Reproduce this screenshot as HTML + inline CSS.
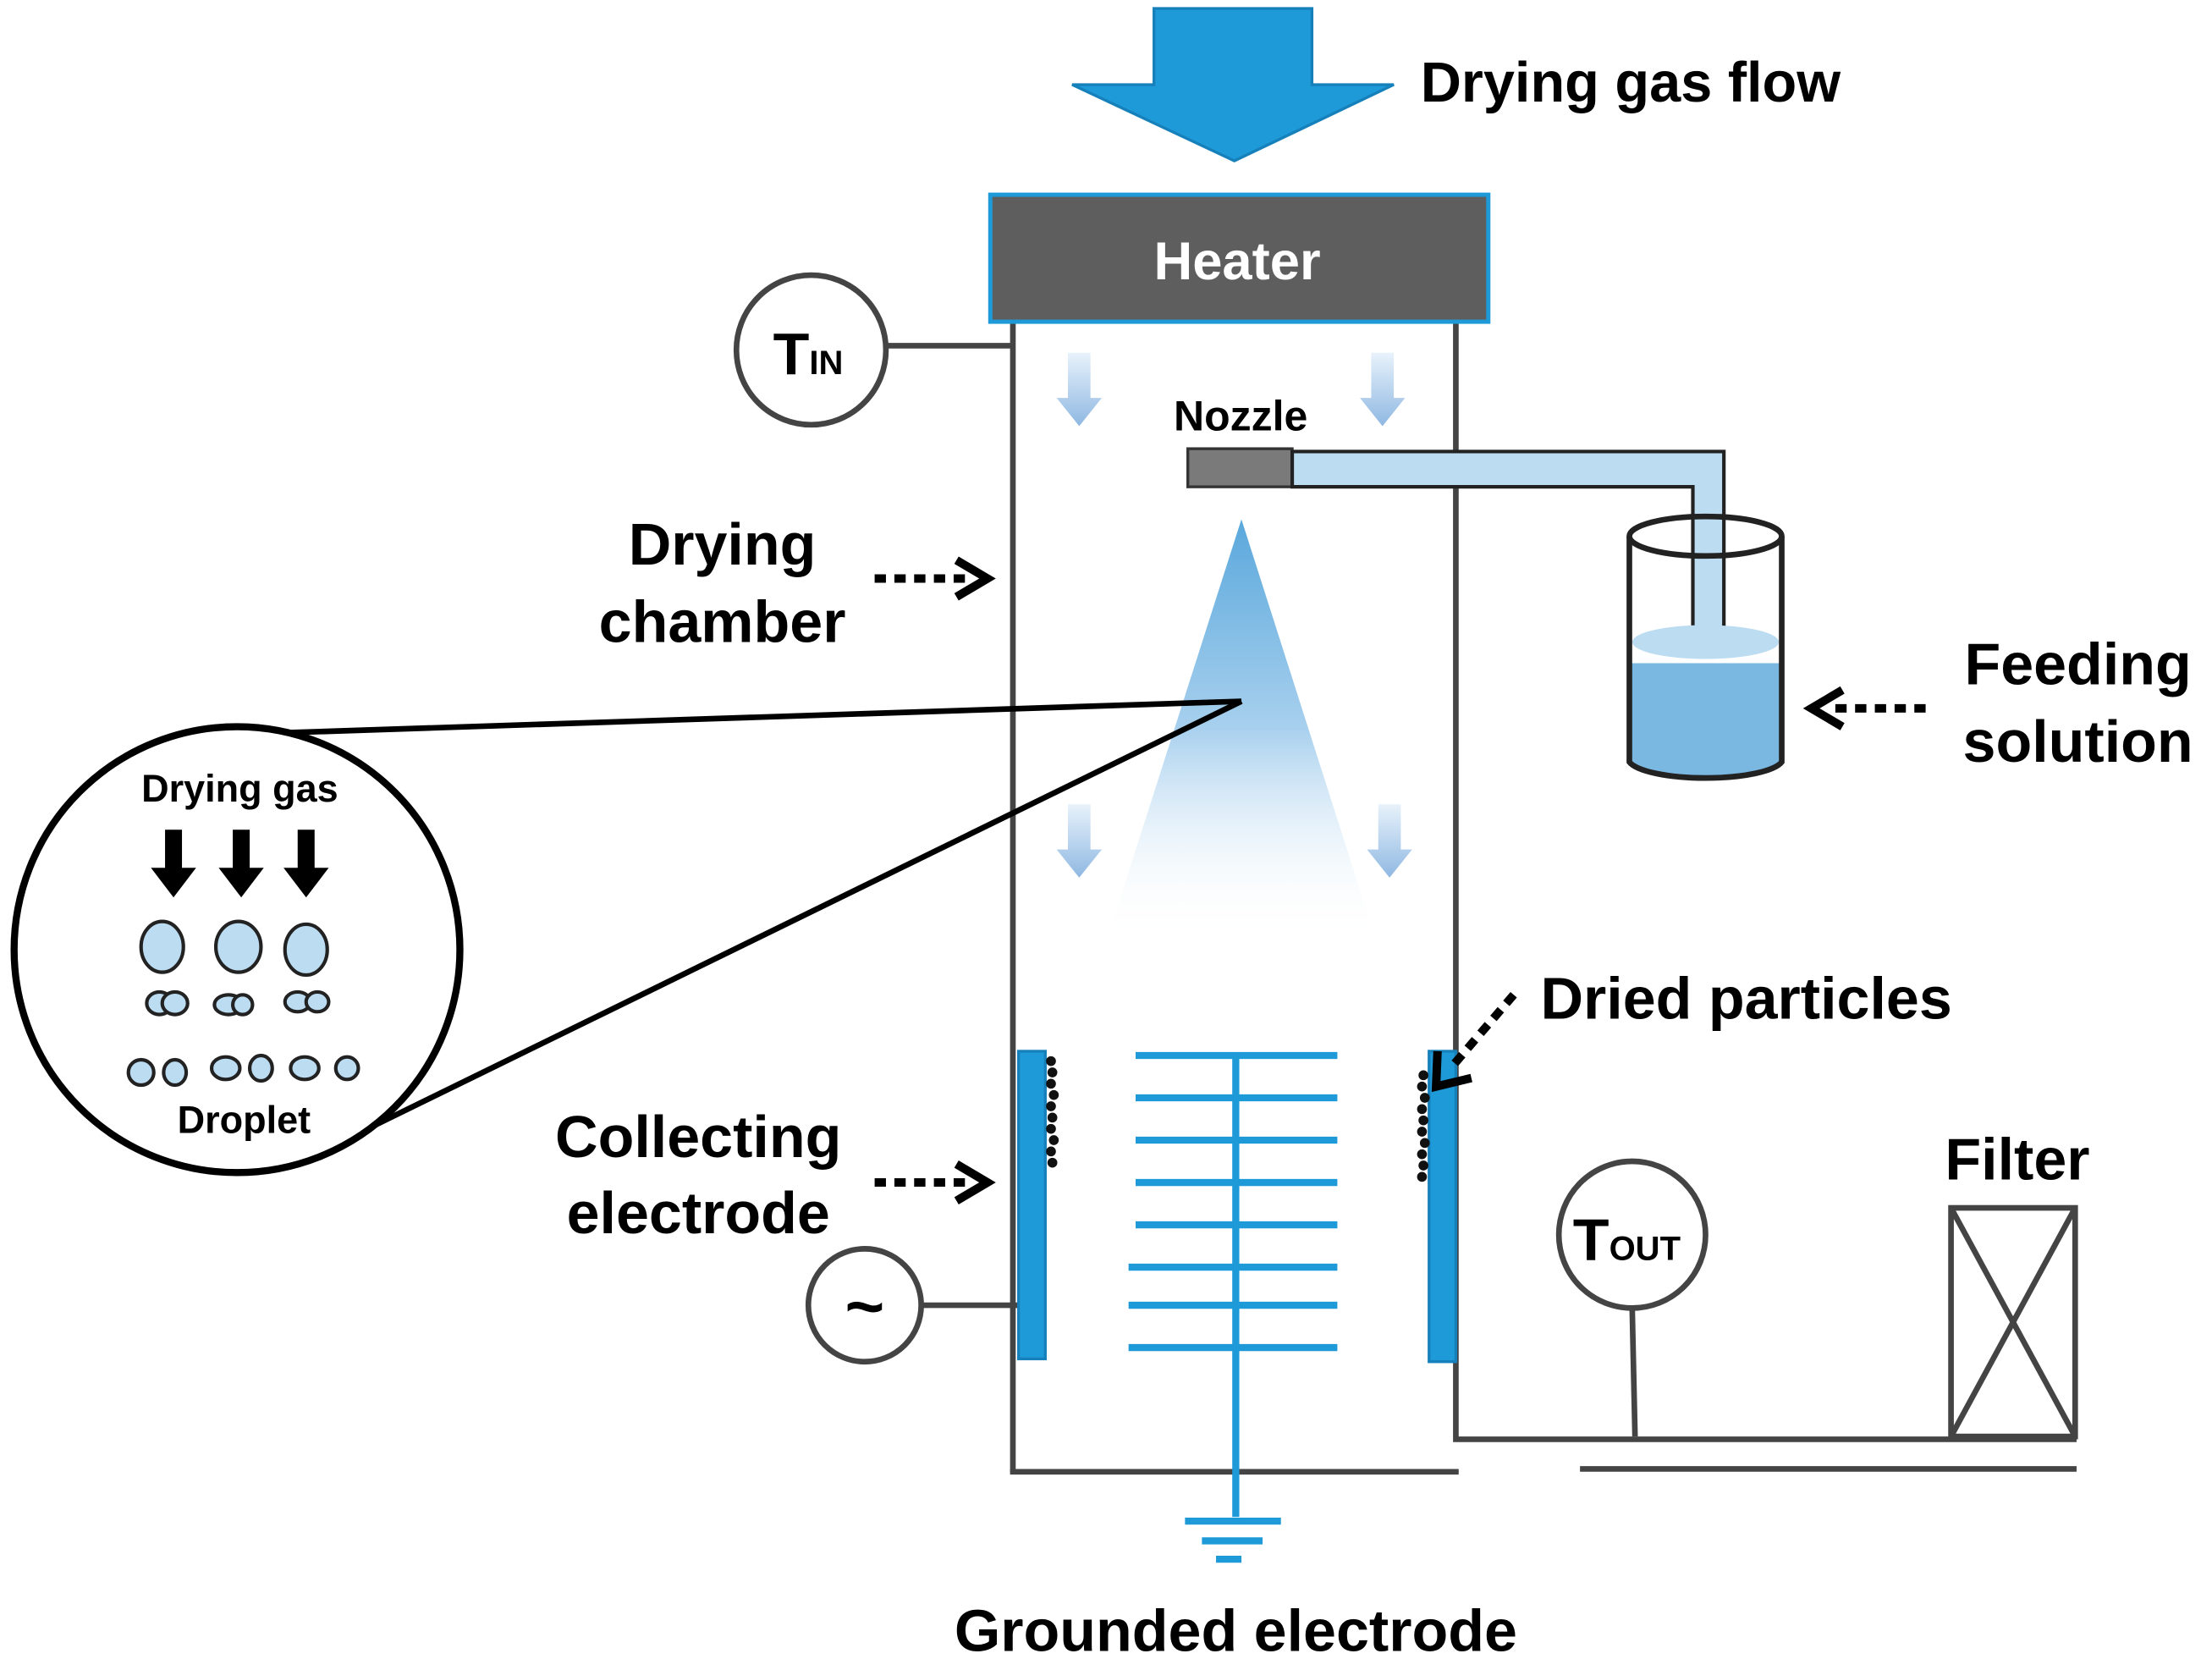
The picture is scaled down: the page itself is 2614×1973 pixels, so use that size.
<!DOCTYPE html>
<html><head><meta charset="utf-8"><style>
html,body{margin:0;padding:0;background:#fff;}
svg{display:block;}
text{font-family:"Liberation Sans",sans-serif;font-weight:bold;fill:#000;}
</style></head><body>
<svg width="2614" height="1973" viewBox="0 0 1568 1183.5" xmlns="http://www.w3.org/2000/svg">
<defs>
<linearGradient id="cone" x1="0" y1="0" x2="0" y2="1">
<stop offset="0" stop-color="#5aa8dc"/><stop offset="0.5" stop-color="#a8d0ee"/><stop offset="1" stop-color="#fff" stop-opacity="0"/></linearGradient>
<linearGradient id="ar" x1="0" y1="0" x2="0" y2="1"><stop offset="0" stop-color="#e8f2fb"/><stop offset="1" stop-color="#8fb8e2"/></linearGradient>
</defs>
<polygon points="818,6 930,6 930,60 988,60 875,114 760,60 818,60" fill="#1f9ad8" stroke="#1680bb" stroke-width="2"/>
<text x="1007" y="72" font-size="40">Drying gas flow</text>
<g stroke="#444" stroke-width="4" fill="none">
<line x1="718" y1="228" x2="718" y2="1043"/>
<line x1="716" y1="1043" x2="1034" y2="1043"/>
<polyline points="1032,228 1032,1020 1472,1020"/>
<line x1="1120" y1="1041" x2="1472" y2="1041"/>
<line x1="628" y1="245" x2="718" y2="245"/>
<line x1="653" y1="925" x2="722" y2="925"/>
<line x1="1157" y1="927" x2="1159" y2="1018"/>
<rect x="1383" y="856" width="88" height="162"/>
<line x1="1383" y1="856" x2="1471" y2="1018"/><line x1="1471" y1="856" x2="1383" y2="1018"/>
<circle cx="575" cy="248" r="53"/>
<circle cx="613" cy="925" r="40"/>
<circle cx="1157" cy="875" r="52"/>
</g>
<text x="548" y="265" font-size="42">T<tspan font-size="24">IN</tspan></text>
<text x="613" y="942" font-size="48" text-anchor="middle">~</text>
<text x="1115" y="893" font-size="42">T<tspan font-size="24">OUT</tspan></text>
<rect x="702" y="138" width="353" height="90" fill="#5e5e5e" stroke="#1f9ad8" stroke-width="3"/>
<text x="877" y="198" font-size="38" text-anchor="middle" style="fill:#fff">Heater</text>
<polygon points="880,368 785,665 975,665" fill="url(#cone)"/>
<g fill="url(#ar)">
<polygon points="757,250 773,250 773,282 781,282 765,302 749,282 757,282"/>
<polygon points="972,250 988,250 988,282 996,282 980,302 964,282 972,282"/>
<polygon points="757,570 773,570 773,602 781,602 765,622 749,602 757,602"/>
<polygon points="977,570 993,570 993,602 1001,602 985,622 969,602 977,602"/>
</g>
<rect x="842" y="318" width="74" height="27" fill="#7a7a7a" stroke="#333" stroke-width="2"/>
<path d="M916,320 H1222 V445 H1200 V345 H916 Z" fill="#bcdcf2" stroke="#222" stroke-width="2.5"/>
<text x="832" y="305" font-size="30">Nozzle</text>
<path d="M1155,470 V540 A55,14 0 0 0 1263,540 V470 Z" fill="#7ab8e2"/>
<ellipse cx="1209" cy="455" rx="52" ry="12" fill="#bcdcf2"/>
<path d="M1155,380 V540 A55,14 0 0 0 1263,540 V380" fill="none" stroke="#222" stroke-width="4"/>
<ellipse cx="1209" cy="380" rx="54" ry="14" fill="none" stroke="#222" stroke-width="4"/>
<rect x="722" y="745" width="19" height="218" fill="#1f9ad8" stroke="#1680bb" stroke-width="2"/>
<rect x="1013" y="745" width="19" height="220" fill="#1f9ad8" stroke="#1680bb" stroke-width="2"/>
<g fill="#111">
<circle cx="745" cy="752" r="3.5"/><circle cx="746" cy="760" r="3.5"/><circle cx="745" cy="768" r="3.5"/><circle cx="747" cy="776" r="3.5"/><circle cx="745" cy="784" r="3.5"/><circle cx="746" cy="792" r="3.5"/><circle cx="745" cy="800" r="3.5"/><circle cx="747" cy="808" r="3.5"/><circle cx="745" cy="816" r="3.5"/><circle cx="746" cy="824" r="3.5"/>
<circle cx="1009" cy="762" r="3.5"/><circle cx="1008" cy="770" r="3.5"/><circle cx="1010" cy="778" r="3.5"/><circle cx="1008" cy="786" r="3.5"/><circle cx="1009" cy="794" r="3.5"/><circle cx="1008" cy="802" r="3.5"/><circle cx="1010" cy="810" r="3.5"/><circle cx="1008" cy="818" r="3.5"/><circle cx="1009" cy="826" r="3.5"/><circle cx="1008" cy="834" r="3.5"/>
</g>
<g stroke="#1f9ad8" stroke-width="5">
<line x1="876" y1="748" x2="876" y2="1075"/>
<line x1="805" y1="748" x2="948" y2="748"/><line x1="805" y1="778" x2="948" y2="778"/>
<line x1="805" y1="808" x2="948" y2="808"/><line x1="805" y1="838" x2="948" y2="838"/>
<line x1="805" y1="868" x2="948" y2="868"/><line x1="800" y1="898" x2="948" y2="898"/>
<line x1="800" y1="925" x2="948" y2="925"/><line x1="800" y1="955" x2="948" y2="955"/>
<line x1="840" y1="1078" x2="908" y2="1078"/><line x1="852" y1="1092" x2="895" y2="1092"/>
<line x1="862" y1="1105" x2="880" y2="1105"/>
</g>
<g stroke="#000" stroke-width="4" fill="none">
<line x1="180" y1="520" x2="880" y2="497"/>
<line x1="240" y1="810" x2="880" y2="497"/>
</g>
<circle cx="168" cy="673" r="158" fill="#fff" stroke="#000" stroke-width="5"/>
<text x="170" y="568" font-size="27" text-anchor="middle">Drying gas</text>
<text x="173" y="803" font-size="27" text-anchor="middle">Droplet</text>
<g fill="#000">
<polygon points="117,588 129,588 129,615 139,615 123,636 107,615 117,615"/>
<polygon points="165,588 177,588 177,615 187,615 171,636 155,615 165,615"/>
<polygon points="211,588 223,588 223,615 233,615 217,636 201,615 211,615"/>
</g>
<g fill="#bcdcf2" stroke="#222" stroke-width="2.5">
<ellipse cx="115" cy="671" rx="15" ry="18"/><ellipse cx="169" cy="671" rx="16" ry="18"/><ellipse cx="217" cy="673" rx="15" ry="18"/>
<ellipse cx="113" cy="711" rx="9" ry="8"/><ellipse cx="124" cy="711" rx="9" ry="8"/>
<ellipse cx="162" cy="712" rx="10" ry="7"/><ellipse cx="172" cy="712" rx="7" ry="7"/>
<ellipse cx="211" cy="710" rx="9" ry="7"/><ellipse cx="225" cy="710" rx="8" ry="7"/>
<ellipse cx="100" cy="760" rx="9" ry="9"/><ellipse cx="124" cy="760" rx="8" ry="9"/>
<ellipse cx="160" cy="757" rx="10" ry="8"/><ellipse cx="185" cy="757" rx="8" ry="9"/>
<ellipse cx="216" cy="757" rx="10" ry="8"/><ellipse cx="246" cy="757" rx="8" ry="8"/>
</g>
<text x="512" y="400" font-size="42" text-anchor="middle">Drying</text>
<text x="512" y="455" font-size="42" text-anchor="middle">chamber</text>
<text x="495" y="820" font-size="42" text-anchor="middle">Collecting</text>
<text x="495" y="874" font-size="42" text-anchor="middle">electrode</text>
<text x="1473" y="485" font-size="42" text-anchor="middle">Feeding</text>
<text x="1473" y="540" font-size="42" text-anchor="middle">solution</text>
<text x="1092" y="722" font-size="42">Dried particles</text>
<text x="1430" y="836" font-size="42" text-anchor="middle">Filter</text>
<text x="876" y="1170" font-size="42" text-anchor="middle">Grounded electrode</text>
<g stroke="#000" stroke-width="6" fill="none" stroke-linejoin="miter">
<line x1="620" y1="410" x2="690" y2="410" stroke-dasharray="8 6"/>
<polyline points="678,397 700,410 678,423"/>
<line x1="620" y1="838" x2="690" y2="838" stroke-dasharray="8 6"/>
<polyline points="678,825 700,838 678,851"/>
<line x1="1365" y1="502" x2="1295" y2="502" stroke-dasharray="8 6"/>
<polyline points="1306,489 1284,502 1306,515"/>
<line x1="1073" y1="705" x2="1030" y2="755" stroke-dasharray="8 6"/>
<polyline points="1019,745 1018,770 1043,764"/>
</g>
</svg>
</body></html>
